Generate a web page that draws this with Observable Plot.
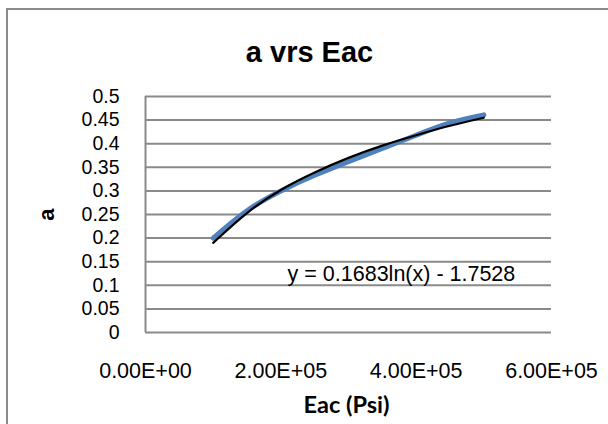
<!DOCTYPE html>
<html>
<head>
<meta charset="utf-8">
<script src="https://cdn.jsdelivr.net/npm/d3@7"></script>
<script src="https://cdn.jsdelivr.net/npm/@observablehq/plot@0.6"></script>
<style>
  html, body { margin: 0; padding: 0; background: #fff; }
  #wrap { position: relative; width: 608px; height: 424px; overflow: hidden; }
  #border { position: absolute; left: 6px; top: 8px; width: 640px; height: 480px;
            border-left: 2px solid #8c8c8c; border-top: 2px solid #8c8c8c; pointer-events: none; }
</style>
</head>
<body>
<div id="wrap"><div id="border"></div></div>
<script>
// Data
const eac = [100000, 150000, 200000, 250000, 300000, 350000, 400000, 450000, 500000];
const aValues = [0.20, 0.258, 0.30, 0.333, 0.362, 0.39, 0.418, 0.444, 0.461];
const trendValues = [0.19, 0.253, 0.302, 0.339, 0.370, 0.396, 0.418, 0.438, 0.455];
const xTicks = [0, 200000, 400000, 600000];
const yTicks = [0, 0.05, 0.1, 0.15, 0.2, 0.25, 0.3, 0.35, 0.4, 0.45, 0.5];
const titleText = "a vrs Eac";
const xLabel = "Eac (Psi)";
const yLabel = "a";
const equation = "y = 0.1683ln(x) - 1.7528";

const series = eac.map((x, i) => ({x, y: aValues[i]}));
const trend = eac.map((x, i) => ({x, y: trendValues[i]}));

const sci = v => {
  const [m, e] = v.toExponential(2).split("e");
  const n = +e;
  return m + "E" + (n < 0 ? "-" : "+") + String(Math.abs(n)).padStart(2, "0");
};
const yFmt = d => String(+d.toFixed(2));

const font = "Liberation Sans, Arial, sans-serif";

const chart = Plot.plot({
  width: 608,
  height: 424,
  marginLeft: 145,
  marginRight: 57,
  marginTop: 96,
  marginBottom: 92,
  style: {fontFamily: font, fontSize: "19.5px", color: "#000", background: "transparent"},
  x: {domain: [0, 600000], label: null},
  y: {domain: [0, 0.5], label: null},
  marks: [
    Plot.ruleY(yTicks, {stroke: "#8a8a8a", strokeWidth: 2}),
    Plot.ruleX([0], {stroke: "#8a8a8a", strokeWidth: 2}),
    Plot.axisX({ticks: xTicks, tickFormat: sci, tickSize: 0, tickPadding: 30, fontSize: 21.5, label: null}),
    Plot.axisY({ticks: [], label: null}),
    Plot.text(yTicks, {y: d => d, frameAnchor: "left", dx: -26, text: yFmt, textAnchor: "end", lineAnchor: "middle", fontSize: 19.5, fill: "#000"}),
    Plot.line(series, {x: "x", y: "y", stroke: "#4f81bd", strokeWidth: 5, curve: "natural", strokeLinecap: "round"}),
    Plot.line(trend, {x: "x", y: "y", stroke: "#000", strokeWidth: 2.2, curve: "natural"}),
    Plot.text([equation], {x: 210000, y: 0.123, text: d => d, textAnchor: "start", lineAnchor: "middle", fontSize: 21.5, fill: "#000"}),
    Plot.text([titleText], {frameAnchor: "top", dx: -39, dy: -44, text: d => d, textAnchor: "middle", lineAnchor: "middle", fontSize: 29, fontWeight: "bold", fill: "#000"}),
    Plot.text([yLabel], {frameAnchor: "left", dx: -99, text: d => d, rotate: -90, textAnchor: "middle", lineAnchor: "middle", fontSize: 22, fontWeight: "bold", fill: "#000"}),
    Plot.text([xLabel], {frameAnchor: "bottom", dx: -2, dy: 73, text: d => d, textAnchor: "middle", lineAnchor: "middle", fontSize: 23.5, fontWeight: "bold", fontFamily: "Lato, Open Sans, sans-serif", fill: "#000"})
  ]
});
document.getElementById("wrap").prepend(chart);
</script>
</body>
</html>
